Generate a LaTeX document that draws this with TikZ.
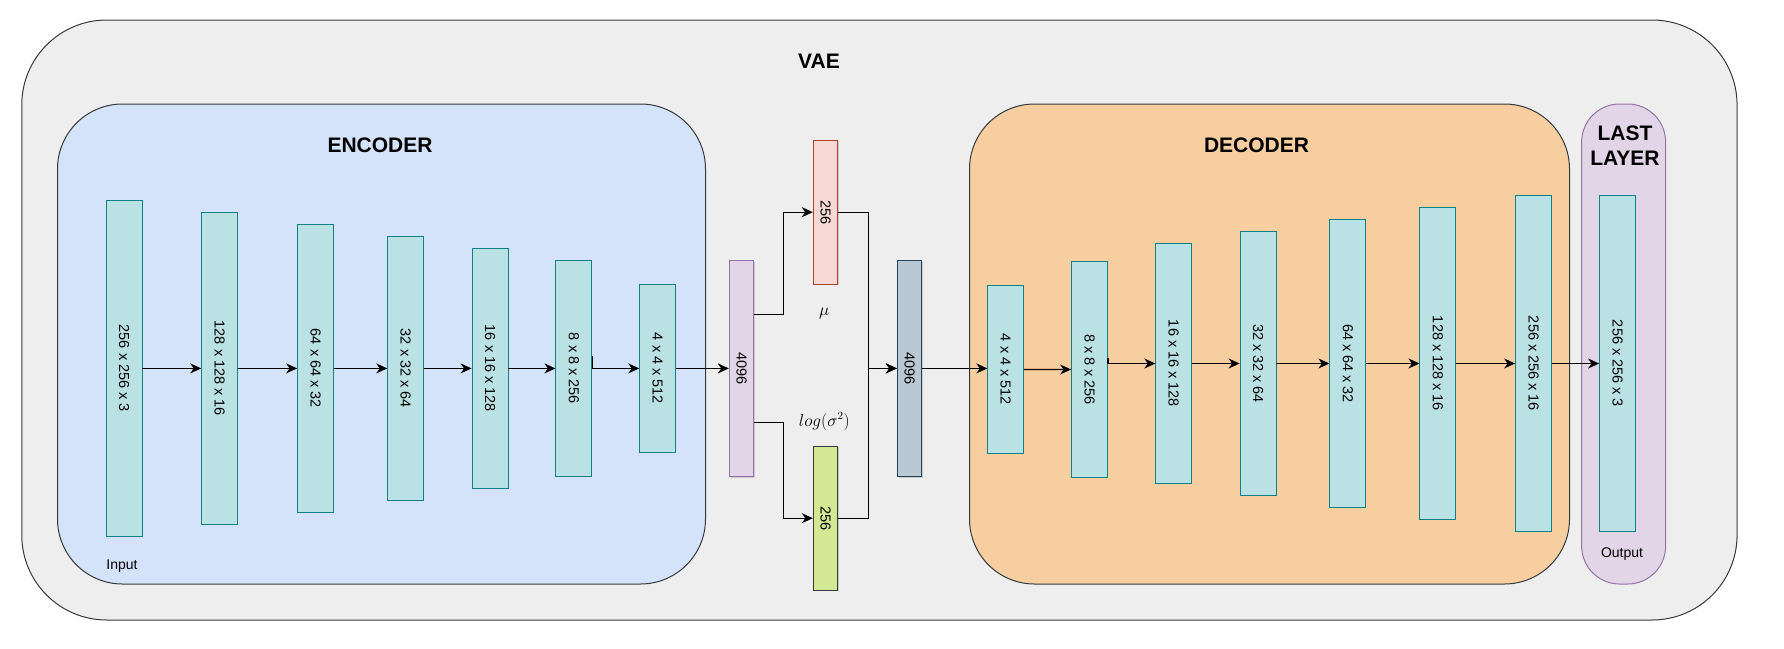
\documentclass[tikz,border=0pt]{standalone}
\usepackage[no-math]{fontspec}
\setmainfont{Liberation Sans}
\usepackage{graphicx}
\usetikzlibrary{arrows.meta,shadows}
\definecolor{vaefill}{HTML}{EEEEEE}
\definecolor{darkstroke}{HTML}{36393D}
\definecolor{encfill}{HTML}{D4E3F9}
\definecolor{decfill}{HTML}{F7CEA0}
\definecolor{layfill}{HTML}{BAE1E4}
\definecolor{laystroke}{HTML}{0E8088}
\definecolor{purfill}{HTML}{E1D5E7}
\definecolor{purstroke}{HTML}{9673A6}
\definecolor{redfill}{HTML}{F6D9D4}
\definecolor{redstroke}{HTML}{AE4132}
\definecolor{grnfill}{HTML}{D3E893}
\definecolor{grayfill}{HTML}{BAC8D3}
\definecolor{graystroke}{HTML}{23445D}
\begin{document}
\begin{tikzpicture}[x=1pt,y=-1pt,
  container/.style={draw=darkstroke, line width=1pt, inner sep=0pt},
  layer/.style={draw=laystroke, fill=layfill, line width=0.8pt, minimum width=36pt, inner sep=0pt, font=\fontsize{14.5}{16}\selectfont},
  latent/.style={line width=1pt, minimum width=24.4pt, inner sep=0pt, font=\fontsize{14.5}{16}\selectfont,
     drop shadow={shadow xshift=1.2pt, shadow yshift=-1.2pt, fill=black!30, opacity=0.6}},
  arr/.style={-{Stealth[length=11pt,width=10pt,inset=3.5pt]}, line width=1.3pt},
  ttl/.style={font=\bfseries\fontsize{21}{25}\selectfont, inner sep=0pt},
  small/.style={font=\fontsize{14}{16}\selectfont, inner sep=0pt},
  mathlbl/.style={font=\fontsize{16}{18}\selectfont, inner sep=0pt}
]
\useasboundingbox (0,0) rectangle (1784,648);
% containers
\node[container, fill=vaefill, rounded corners=85pt, minimum width=1715.3pt, minimum height=600pt] (vae) at (879.4,320) {};
\node[container, fill=encfill, rounded corners=65pt, minimum width=648pt, minimum height=480pt] (enc) at (381.5,344) {};
\node[container, fill=decfill, rounded corners=65pt, minimum width=600pt, minimum height=480pt] (dec) at (1269.5,344) {};
\node[container, draw=purstroke, fill=purfill, rounded corners=38pt, minimum width=84pt, minimum height=480pt] (last) at (1623.6,344) {};
% titles
\node[ttl] (tvae) at (819,61) {VAE};
\node[ttl] (tenc) at (380,145.5) {ENCODER};
\node[ttl] (tdec) at (1256.5,145.5) {DECODER};
\node[ttl, align=center] (tlast) at (1625,146) {LAST\\LAYER};
\node[small] (tin) at (122,566) {Input};
\node[small] (tout) at (1622,554) {Output};
% encoder layers
\node[layer, minimum height=336pt] (e1) at (124,368.4) {\rotatebox{-90}{256 x 256 x 3}};
\node[layer, minimum height=312pt] (e2) at (219.6,368.4) {\rotatebox{-90}{128 x 128 x 16}};
\node[layer, minimum height=288pt] (e3) at (315.5,368.4) {\rotatebox{-90}{64 x 64 x 32}};
\node[layer, minimum height=264pt] (e4) at (405.6,368.4) {\rotatebox{-90}{32 x 32 x 64}};
\node[layer, minimum height=240pt] (e5) at (490,368.4) {\rotatebox{-90}{16 x 16 x 128}};
\node[layer, minimum height=216pt] (e6) at (573.8,368.4) {\rotatebox{-90}{8 x 8 x 256}};
\node[layer, minimum height=168pt] (e7) at (657.6,368.4) {\rotatebox{-90}{4 x 4 x 512}};
% latent
\node[latent, draw=purstroke, fill=purfill, minimum height=216pt] (p) at (741.5,368.4) {\rotatebox{-90}{4096}};
\node[latent, draw=redstroke, fill=redfill, minimum height=144pt] (mu) at (825.5,212.2) {\rotatebox{-90}{256}};
\node[latent, draw=darkstroke, fill=grnfill, minimum height=144pt] (lv) at (825.5,518.2) {\rotatebox{-90}{256}};
\node[latent, draw=graystroke, fill=grayfill, minimum height=216pt] (g) at (909.5,368.4) {\rotatebox{-90}{4096}};
\node[mathlbl] (lmu) at (824.3,313.3) {$\mu$};
\node[mathlbl] (llv) at (824.3,421.7) {$log(\sigma^2)$};
% decoder layers
\node[layer, minimum height=168pt] (d1) at (1005.7,369.4) {\rotatebox{-90}{4 x 4 x 512}};
\node[layer, minimum height=216pt] (d2) at (1089.5,369.5) {\rotatebox{-90}{8 x 8 x 256}};
\node[layer, minimum height=240pt] (d3) at (1173.7,363.5) {\rotatebox{-90}{16 x 16 x 128}};
\node[layer, minimum height=264pt] (d4) at (1258,363.5) {\rotatebox{-90}{32 x 32 x 64}};
\node[layer, minimum height=288pt] (d5) at (1347.8,363.5) {\rotatebox{-90}{64 x 64 x 32}};
\node[layer, minimum height=312pt] (d6) at (1437.8,363.5) {\rotatebox{-90}{128 x 128 x 16}};
\node[layer, minimum height=336pt] (d7) at (1533.5,363.5) {\rotatebox{-90}{256 x 256 x 16}};
\node[layer, minimum height=336pt] (o) at (1617.5,363.5) {\rotatebox{-90}{256 x 256 x 3}};
% encoder arrows
\draw[arr] (e1.east) -- (e2.west);
\draw[arr] (e2.east) -- (e3.west);
\draw[arr] (e3.east) -- (e4.west);
\draw[arr] (e4.east) -- (e5.west);
\draw[arr] (e5.east) -- (e6.west);
\draw[arr] ([yshift=12pt]e6.east) |- (e7.west);
\draw[arr] (e7.east) -- (p.west);
% latent arrows
\draw[arr] ([yshift=54pt]p.east) -- ++(29.6,0) |- (mu.west);
\draw[arr] ([yshift=-54pt]p.east) -- ++(29.6,0) |- (lv.west);
\draw[arr] (mu.east) -- ++(30,0) |- (g.west);
\draw[arr] (lv.east) -- ++(30,0) |- (g.west);
% decoder arrows
\draw[arr] (g.east) -- (g.east -| d1.west);
\draw[arr] (d1.east) -- (d2.west);
\draw[arr] ([yshift=12pt]d2.east) |- (d3.west);
\draw[arr] (d3.east) -- (d4.west);
\draw[arr] (d4.east) -- (d5.west);
\draw[arr] (d5.east) -- (d6.west);
\draw[arr] (d6.east) -- (d7.west);
\draw[arr] (d7.east) -- (o.west);
\end{tikzpicture}
\end{document}
